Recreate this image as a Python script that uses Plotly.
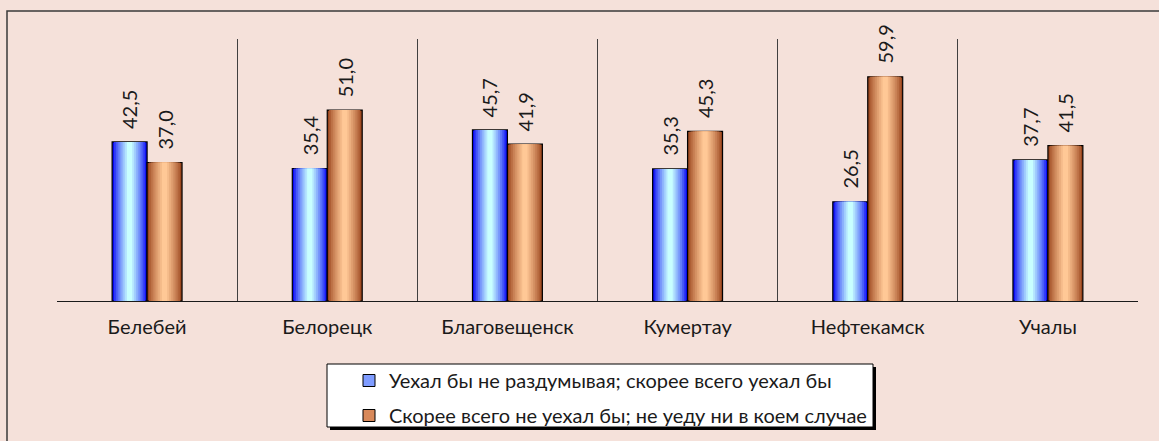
import plotly.graph_objects as go

cities = ["Белебей", "Белорецк", "Благовещенск", "Кумертау", "Нефтекамск", "Учалы"]
leave = [42.5, 35.4, 45.7, 35.3, 26.5, 37.7]
stay = [37.0, 51.0, 41.9, 45.3, 59.9, 41.5]
names = ["Уехал бы не раздумывая; скорее всего уехал бы",
         "Скорее всего не уехал бы; не уеду ни в коем случае"]

W = 0.194          # bar width in category units
N = 9              # gradient layers per bar
BG = "#f5e1da"
FONT = "Lato"
FS = 20
WIDTH, HEIGHT = 1159, 441

# plot area in pixels, used to place shapes in paper coords
L, R, T, B = 57, 1138, 39, 301


def px_x(p):
    return (p - L) / (R - L)


def px_y(p):
    return (B - p) / (B - T)


def mix(c1, c2, t):
    return "rgb(%d,%d,%d)" % tuple(round(a + (b - a) * t) for a, b in zip(c1, c2))


series = [
    dict(y=leave, side=-1, edge=(10, 10, 245), center=(200, 255, 255), legend="#7f9cff", name=names[0]),
    dict(y=stay, side=1, edge=(155, 70, 30), center=(255, 200, 150), legend="#d8895a", name=names[1]),
]

fig = go.Figure()
x = list(range(len(cities)))

for s in series:
    for k in range(N):
        t = k / (N - 1)
        w = W * (1 - 0.85 * t)
        fig.add_trace(go.Bar(
            x=x, y=s["y"],
            width=w,
            offset=(W / 2) * s["side"] - w / 2,
            marker=dict(color=mix(s["edge"], s["center"], t ** 0.8),
                        line=dict(color="black", width=1.2 if k == 0 else 0)),
            showlegend=False, hoverinfo="skip",
        ))
    # legend entry
    fig.add_trace(go.Bar(
        x=[None], y=[None], name=s["name"],
        marker=dict(color=s["legend"], line=dict(color="black", width=1)),
        legendgroup=s["name"],
    ))
    for xi, v in zip(x, s["y"]):
        fig.add_annotation(
            x=xi + (W / 2) * s["side"], y=v,
            text=("%.1f" % v).replace(".", ","),
            textangle=-90, showarrow=False,
            xanchor="center", yanchor="bottom", yshift=11,
            font=dict(family=FONT, size=FS, color="#1a1a1a"),
        )

# outer frame
fig.add_shape(type="rect", xref="paper", yref="paper",
              x0=px_x(7), x1=px_x(1175), y0=px_y(460), y1=px_y(11),
              line=dict(color="#3a3a3a", width=1.5), layer="below")
# legend box with shadow
fig.add_shape(type="rect", xref="paper", yref="paper",
              x0=px_x(330), x1=px_x(876), y0=px_y(430), y1=px_y(367),
              line=dict(width=0), fillcolor="black", layer="above")
fig.add_shape(type="rect", xref="paper", yref="paper",
              x0=px_x(327), x1=px_x(873), y0=px_y(427), y1=px_y(364),
              line=dict(color="black", width=1), fillcolor="white", layer="above")

fig.update_layout(
    width=WIDTH, height=HEIGHT,
    margin=dict(l=L, r=WIDTH - R, t=T, b=HEIGHT - B),
    paper_bgcolor=BG, plot_bgcolor=BG,
    barmode="overlay",
    font=dict(family=FONT, size=FS, color="#1a1a1a"),
    showlegend=True,
    legend=dict(xref="paper", yref="container",
                x=px_x(349), y=1 - 361 / HEIGHT, xanchor="left", yanchor="top",
                bgcolor="rgba(0,0,0,0)", traceorder="grouped", tracegroupgap=6,
                font=dict(family=FONT, size=FS, color="#1a1a1a")),
)
fig.update_xaxes(
    range=[-0.5, 5.5], tickvals=x, ticktext=cities,
    showgrid=False, zeroline=False, ticks="", ticklabelstandoff=8,
    showline=True, linecolor="#1a1a1a", linewidth=1, automargin=False,
    minor=dict(tickvals=[i - 0.5 for i in range(len(cities) + 1)],
               showgrid=True, gridcolor="#404040", gridwidth=1, ticks=""),
)
fig.update_yaxes(range=[0, 70], showgrid=False, zeroline=False,
                 showticklabels=False, ticks="", automargin=False)

fig.write_html("out.html", config={"displayModeBar": False},
               post_script="document.body.style.margin='0';")
